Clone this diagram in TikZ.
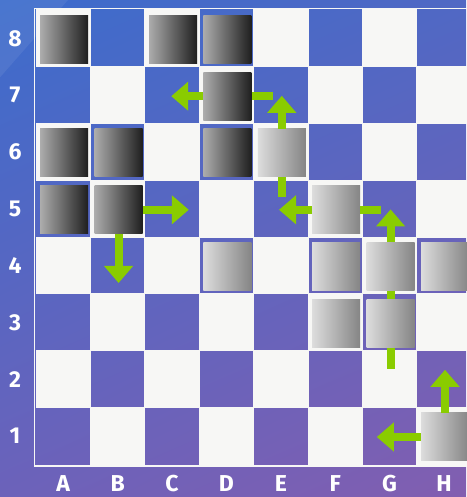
\documentclass[tikz,border=0pt]{standalone}
\usepackage{fontspec}
\newfontfamily\boardfont{Fira Sans}
\usetikzlibrary{arrows.meta, positioning, shadings}

\definecolor{boardwhite}{RGB}{247,247,245}
\definecolor{bgblue}{RGB}{60,108,204}
\definecolor{bgbluer}{RGB}{80,104,196}
\definecolor{bgviolet}{RGB}{108,98,186}
\definecolor{bgpurple}{RGB}{130,94,176}
\definecolor{movegreen}{RGB}{138,204,0}

\begin{document}
\begin{tikzpicture}[
	x=54.4pt, y=56.8pt,
	label_text/.style={text=white, inner sep=0pt, font=\boardfont\bfseries\fontsize{23}{23}\selectfont},
	light_square/.style={fill=boardwhite, draw=boardwhite, line width=1pt},
	dark_piece/.style={rectangle, minimum width=48pt, minimum height=48pt, inner sep=0pt, left color=gray!65, right color=black!88, xshift=1pt, yshift=-1pt},
	light_piece/.style={dark_piece, left color=gray!27, right color=gray!96},
	move/.style={draw=movegreen, line width=8pt, -{Triangle[length=17pt, width=28pt]}},
	stub/.style={draw=movegreen, line width=8pt}
	]
	
	% --- FUNDO ---
	\useasboundingbox (-36pt,-32.6pt) rectangle (430pt,464.4pt);
	\shade[upper left=bgblue, upper right=bgbluer, lower left=bgviolet, lower right=bgpurple]
		(-36pt,-32.6pt) rectangle (430pt,464.4pt);
	\fill[white, opacity=0.07] (-36pt,464.4pt) -- (32pt,464.4pt) -- (-36pt,387pt) -- cycle;
	
	% --- TABULEIRO ---
	\draw[boardwhite, line width=1.4pt] (-1.5pt,-1.5pt) rectangle ([shift={(1.5pt,1.5pt)}] 8,8);
	\foreach \r in {1,...,8}
		\foreach \f in {1,...,8}
			{\ifodd\numexpr\f+\r\relax \path[light_square] (\f-1,\r-1) rectangle (\f,\r); \fi}
	
	\foreach \f [count=\i] in {A,B,C,D,E,F,G,H}
		\node[label_text, yshift=-19.5pt] (file\f) at (\i-0.5,0) {\f};
	\foreach \r in {1,...,8}
		\node[label_text, xshift=-21pt] (rank\r) at (0,\r-0.5) {\r};
	
	% --- PEÇAS ESCURAS ---
	\node[dark_piece] (pA8) at (0.5,7.5) {};
	\node[dark_piece] (pC8) at (2.5,7.5) {};
	\node[dark_piece] (pD8) at (3.5,7.5) {};
	\node[dark_piece] (pD7) at (3.5,6.5) {};
	\node[dark_piece] (pA6) at (0.5,5.5) {};
	\node[dark_piece] (pB6) at (1.5,5.5) {};
	\node[dark_piece] (pD6) at (3.5,5.5) {};
	\node[dark_piece] (pA5) at (0.5,4.5) {};
	\node[dark_piece] (pB5) at (1.5,4.5) {};
	
	% --- PEÇAS CLARAS ---
	\node[light_piece] (pE6) at (4.5,5.5) {};
	\node[light_piece] (pF5) at (5.5,4.5) {};
	\node[light_piece] (pD4) at (3.5,3.5) {};
	\node[light_piece] (pF4) at (5.5,3.5) {};
	\node[light_piece] (pG4) at (6.5,3.5) {};
	\node[light_piece] (pH4) at (7.5,3.5) {};
	\node[light_piece] (pF3) at (5.5,2.5) {};
	\node[light_piece] (pG3) at (6.5,2.5) {};
	\node[light_piece] (pH1) at (7.5,0.5) {};
	
	% --- MOVIMENTOS ---
	\coordinate[right=46pt of pB5] (tC5);
	\coordinate[below=49pt of pB5] (tB4);
	\coordinate[left=32pt of pD7] (tC7);
	\coordinate[right=21pt of pD7] (sD7);
	\coordinate[above=33pt of pE6] (tE7);
	\coordinate[below=20pt of pE6] (sE6);
	\coordinate[left=33pt of pF5] (tE5);
	\coordinate[right=21pt of pF5] (sF5);
	\coordinate[above=33pt of pG4] (tG5);
	\coordinate[below=21pt of pG3] (sG3);
	\coordinate[above=43pt of pH1] (tH2);
	\coordinate[left=44pt of pH1] (tG1);
	
	\draw[move] (pB5) -- (tC5);
	\draw[move] (pB5) -- (tB4);
	\draw[move] (pD7) -- (tC7);
	\draw[stub] (pD7) -- (sD7);
	\draw[move] (pE6) -- (tE7);
	\draw[stub] (pE6) -- (sE6);
	\draw[move] (pF5) -- (tE5);
	\draw[stub] (pF5) -- (sF5);
	\draw[move] (pG4) -- (tG5);
	\draw[stub] (pG4) -- (pG3);
	\draw[stub] (pG3) -- (sG3);
	\draw[move] (pH1) -- (tH2);
	\draw[move] (pH1) -- (tG1);
	
\end{tikzpicture}
\end{document}
